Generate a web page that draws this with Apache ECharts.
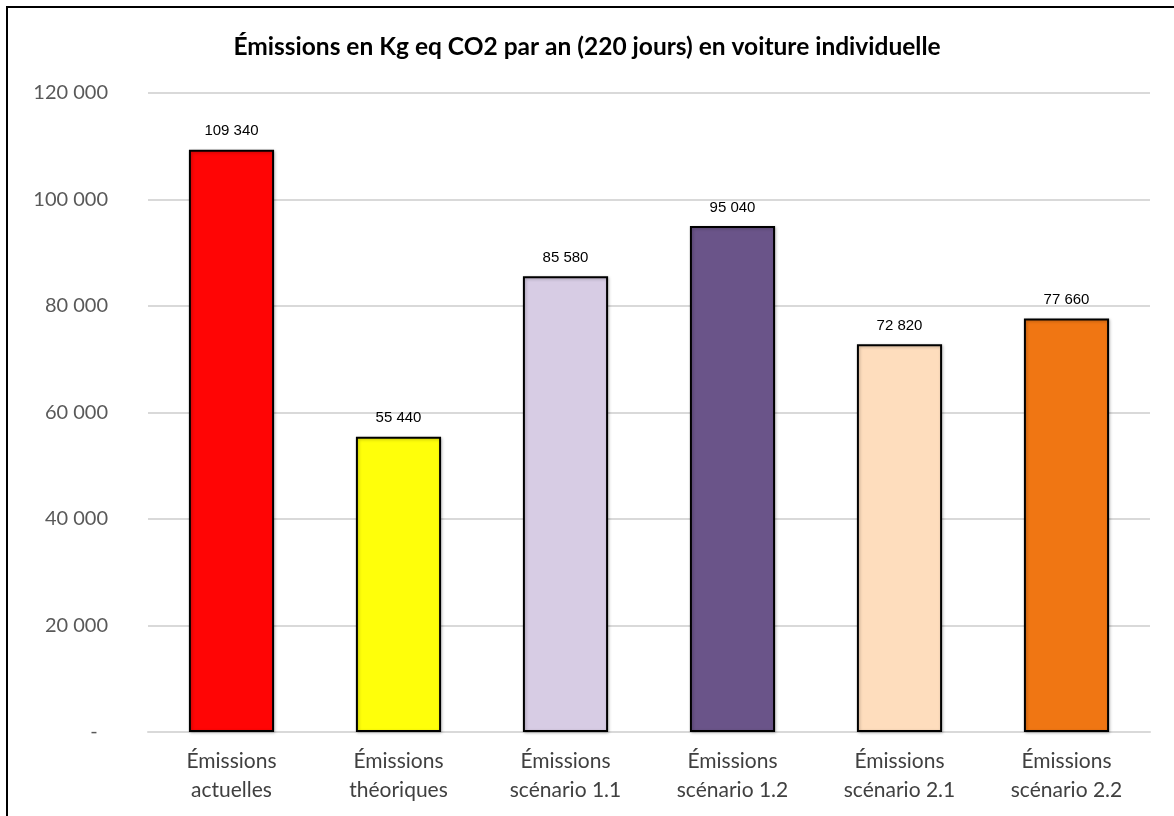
<!DOCTYPE html>
<html>
<head>
<meta charset="utf-8">
<script src="https://cdn.jsdelivr.net/npm/echarts@6/dist/echarts.min.js"></script>
<style>
  html, body { margin: 0; padding: 0; background: #fff; }
  #frame {
    position: absolute; left: 6px; top: 6px;
    width: 1180px; height: 820px;
    border: 2px solid #000; box-sizing: border-box;
  }
  #chart { position: absolute; left: 0; top: 0; width: 1174px; height: 816px; }
</style>
</head>
<body>
<div id="frame"></div>
<div id="chart"></div>
<script>
// données
const categories = [
  'Émissions\nactuelles',
  'Émissions\nthéoriques',
  'Émissions\nscénario 1.1',
  'Émissions\nscénario 1.2',
  'Émissions\nscénario 2.1',
  'Émissions\nscénario 2.2'
];
const values = [109340, 55440, 85580, 95040, 72820, 77660];
const colors = ['#FF0505', '#FFFF0A', '#D7CCE4', '#6A5489', '#FEDDBD', '#F07613'];

const fmt = v => String(v).replace(/\B(?=(\d{3})+(?!\d))/g, ' ');

const chart = echarts.init(document.getElementById('chart'));
chart.setOption({
  animation: false,
  title: {
    text: 'Émissions en Kg eq CO2 par an (220 jours) en voiture individuelle',
    left: 'center',
    top: 30,
    textStyle: {
      fontFamily: 'Lato',
      fontWeight: 'bold',
      fontSize: 24.5,
      color: '#000'
    }
  },
  grid: {
    left: 148,
    right: 24,
    top: 93,
    bottom: 84
  },
  xAxis: {
    type: 'category',
    data: categories,
    axisTick: { show: false },
    axisLine: { lineStyle: { color: '#D9D9D9', width: 2 } },
    axisLabel: {
      fontFamily: 'Lato',
      fontSize: 21,
      color: '#404040',
      lineHeight: 29,
      margin: 15,
      interval: 0
    }
  },
  yAxis: {
    type: 'value',
    min: 0,
    max: 120000,
    interval: 20000,
    axisLine: { show: false },
    axisTick: { show: false },
    splitLine: { lineStyle: { color: '#D9D9D9', width: 2 } },
    axisLabel: {
      fontFamily: 'Lato',
      fontSize: 20,
      color: '#595959',
      margin: 40,
      formatter: v => v === 0 ? '-  ' : fmt(v)
    }
  },
  series: [{
    type: 'bar',
    barWidth: '51%',
    data: values.map((v, i) => ({
      value: v,
      itemStyle: { color: colors[i] }
    })),
    itemStyle: {
      borderColor: '#000',
      borderWidth: 2,
      shadowColor: 'rgba(0,0,0,0.25)',
      shadowBlur: 3,
      shadowOffsetX: 1,
      shadowOffsetY: 1
    },
    label: {
      show: true,
      position: 'top',
      distance: 11,
      fontFamily: 'Liberation Sans',
      fontSize: 15,
      color: '#000',
      formatter: p => fmt(p.value)
    }
  }]
});
</script>
</body>
</html>
